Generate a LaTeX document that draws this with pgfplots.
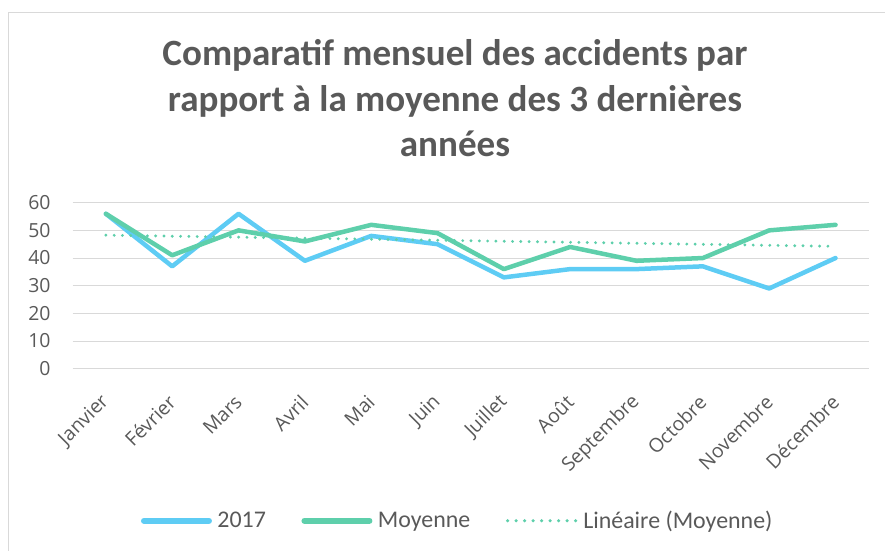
\documentclass[border=0pt]{standalone}
\usepackage{pgfplots}
\pgfplotsset{compat=1.18}
\usepackage{fontspec}
\setmainfont{Carlito}
\newfontfamily\tickfont{Open Sans}
\definecolor{txt}{RGB}{89,89,89}
\definecolor{c17}{RGB}{94,204,244}
\definecolor{cmoy}{RGB}{94,207,171}
\definecolor{grd}{RGB}{217,217,217}
\begin{document}
\begin{tikzpicture}
\useasboundingbox (0bp,0bp) rectangle (885bp,551bp);
\draw[grd, line width=1.5bp] (8.5bp,0bp) -- (8.5bp,538.5bp) -- (885bp,538.5bp);
\node[txt, font=\fontsize{37.2}{45}\selectfont\bfseries, anchor=base] at (455bp,485bp) {Comparatif mensuel des accidents par};
\node[txt, font=\fontsize{37.2}{45}\selectfont\bfseries, anchor=base] at (455bp,439.5bp) {rapport à la moyenne des 3 dernières};
\node[txt, font=\fontsize{37.2}{45}\selectfont\bfseries, anchor=base] at (455bp,394bp) {années};
\begin{axis}[
  at={(72.7bp,182.3bp)}, anchor=south west,
  width=796bp, height=166bp, scale only axis,
  xmin=-0.5, xmax=11.5, ymin=0, ymax=60,
  ytick={0,10,...,60},
  xtick={0,...,11},
  xticklabels={Janvier,Février,Mars,Avril,Mai,Juin,Juillet,Août,Septembre,Octobre,Novembre,Décembre},
  ymajorgrids, grid style={grd, line width=1bp},
  axis line style={draw=none},
  major tick length=0pt,
  /pgf/number format/assume math mode=true,
  tick label style={text=txt, font=\tickfont\fontsize{19.5}{23}\selectfont},
  y tick label style={anchor=east, inner sep=0pt, xshift=-22bp},
  x tick label style={inner sep=0pt, yshift=-30bp, rotate=45, anchor=east},
  legend columns=3,
  legend style={at={(0.484,-0.9157)}, anchor=center, draw=none, fill=none,
    font=\fontsize{24}{28}\selectfont, text=txt,
    nodes={inner sep=2.5bp},
    /tikz/every odd column/.append style={column sep=3bp},
    /tikz/every even column/.append style={column sep=33bp}},
]
\addplot[c17, line width=4.5bp, line join=round, line cap=round,
  legend image code/.code={\draw[c17, line width=6bp, line cap=round] (3bp,0bp) -- (68bp,0bp);}] coordinates {
 (0,56) (1,37) (2,56) (3,39) (4,48) (5,45) (6,33) (7,36) (8,36) (9,37) (10,29) (11,40)};
\addlegendentry{2017}
\addplot[cmoy, line width=4.5bp, line join=round, line cap=round,
  legend image code/.code={\draw[cmoy, line width=6bp, line cap=round] (3bp,0bp) -- (68bp,0bp);}] coordinates {
 (0,56) (1,41) (2,50) (3,46) (4,52) (5,49) (6,36) (7,44) (8,39) (9,40) (10,50) (11,52)};
\addlegendentry{Moyenne}
\addplot[cmoy, line width=3.2bp, line cap=round, dash pattern=on 0bp off 8.3bp,
  legend image code/.code={\draw[cmoy, line width=3.5bp, line cap=round, dash pattern=on 0bp off 8.5bp] (0bp,0bp) -- (68.5bp,0bp);}] coordinates {
 (0,48.27) (11,44.23)};
\addlegendentry{Linéaire (Moyenne)}
\end{axis}
\end{tikzpicture}
\end{document}
